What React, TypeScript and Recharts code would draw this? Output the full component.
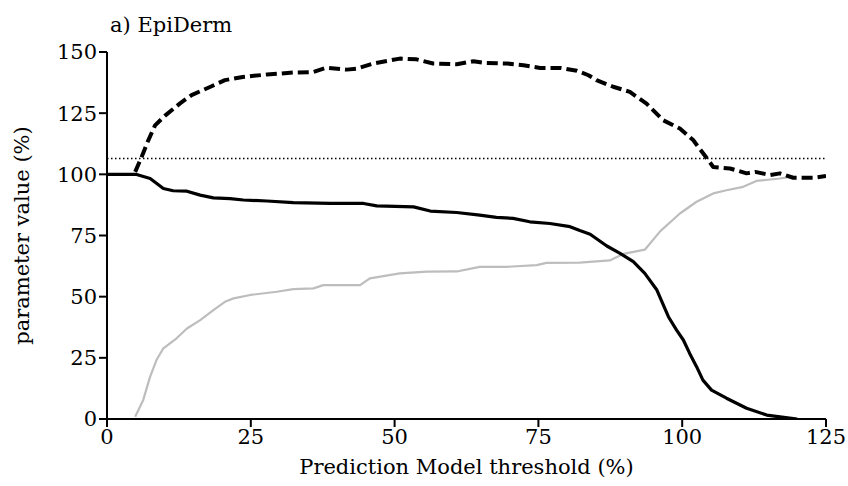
import React from 'react';
import { LineChart, Line, XAxis, YAxis, ReferenceLine } from 'recharts';

const xTicks = [0, 25, 50, 75, 100, 125];
const yTicks = [0, 25, 50, 75, 100, 125, 150];

const titleText = 'a) EpiDerm';
const xLabelText = 'Prediction Model threshold (%)';
const yLabelText = 'parameter value (%)';

const cutoffValue = 106.5;

const sensX = [0, 5, 7.5, 9.8, 11.5, 13.9, 16.2, 18.5, 21.4, 23.7, 27.8, 32.4, 38.8, 44.6, 46.9, 53.3, 56.2, 60.8, 64.8, 67.7, 70.6, 73.5, 77, 80.5, 82.2, 84, 86.9, 89.2, 91.5, 93.5, 95.6, 97.6, 99, 100.2, 101.3, 102.5, 103.6, 105.1, 107.7, 111.2, 114.7, 117, 120];
const sensY = [100, 100, 98.3, 94.2, 93.3, 93.1, 91.5, 90.4, 90.1, 89.5, 89.1, 88.4, 88.1, 88.1, 87.1, 86.7, 85, 84.4, 83.3, 82.4, 82, 80.6, 79.9, 78.6, 77, 75.5, 70.7, 67.7, 64.3, 59.5, 52.7, 41.8, 36.4, 32.3, 26.8, 21.4, 15.9, 11.8, 8.5, 4.4, 1.6, 0.9, 0];

const specX = [4.9, 6.3, 7.5, 8.6, 9.8, 12.1, 13.9, 16.2, 18.5, 20.5, 22, 24.9, 29.5, 32.4, 35.9, 37.6, 44, 45.7, 50.9, 55.6, 60.8, 64.8, 69.5, 74.7, 76.4, 82.2, 87.4, 89.8, 93.5, 96.2, 99.6, 102.5, 105.4, 107.7, 110.6, 112.9, 115.3, 117, 119];
const specY = [0.9, 7.8, 17.3, 24.1, 28.9, 33, 37, 40.4, 44.5, 47.9, 49.3, 50.7, 52, 53.1, 53.4, 54.7, 54.7, 57.5, 59.5, 60.2, 60.3, 62.2, 62.2, 62.9, 63.8, 63.9, 64.8, 67.5, 69.2, 76.8, 84, 88.8, 92.2, 93.5, 94.9, 97.3, 97.9, 98.3, 99];

const sumX = [4.9, 6.0, 7.2, 8.35, 10.1, 12.7, 14.7, 17.9, 20.5, 23.6, 27.8, 32.4, 35.8, 38.2, 41.7, 43.4, 46.3, 50.9, 53.8, 56.7, 60.8, 63.7, 66, 69.5, 72.4, 75.3, 78.8, 81.7, 83.7, 85.1, 88, 90.9, 93.8, 96.7, 99.6, 101.9, 103.9, 105.4, 108.3, 111.2, 112.7, 115.3, 117, 119.3, 122.8, 125];
const sumY = [101, 107, 114, 120, 124, 129, 132.4, 135.7, 138.5, 139.8, 140.8, 141.6, 141.8, 143.6, 142.8, 143.2, 145.3, 147.3, 147, 145.3, 145, 146.2, 145.5, 145.3, 144.6, 143.5, 143.5, 142.3, 140.5, 138.5, 135.8, 133.7, 128.9, 122.1, 118.7, 114, 107.8, 103, 102.4, 100.4, 101, 99.7, 100.4, 98.6, 98.6, 99.3];

const toPoints = (xs: number[], ys: number[]) => xs.map((x, i) => ({ x, y: ys[i] }));

const sensData = toPoints(sensX, sensY);
const specData = toPoints(specX, specY);
const sumData = toPoints(sumX, sumY);

const FONT = "'DejaVu Serif', serif";

const YLabel = (props: any) => {
  const vb = props.viewBox || {};
  const cx = vb.x;
  const cy = vb.y + vb.height / 2;
  return (
    <text
      x={cx}
      y={cy}
      transform={`rotate(-90, ${cx}, ${cy})`}
      textAnchor="middle"
      dominantBaseline="central"
      fill="#000"
      fontSize={21}
      fontFamily={FONT}
    >
      {yLabelText}
    </text>
  );
};

export default function App() {
  return (
    <div style={{ position: 'absolute', left: 0, top: 0, width: 848, height: 486, background: '#fff' }}>
      <LineChart width={848} height={486} margin={{ top: 52, right: 22, bottom: 37, left: 22 }}>
        <text x={110} y={32} fontSize={21} fontFamily={FONT} fill="#000">
          {titleText}
        </text>
        <XAxis
          type="number"
          dataKey="x"
          domain={[0, 125]}
          ticks={xTicks}
          allowDataOverflow
          height={30}
          tickSize={8}
          axisLine={{ stroke: '#000', strokeWidth: 2 }}
          tickLine={{ stroke: '#000', strokeWidth: 2 }}
          tick={{ fill: '#000', fontSize: 21, fontFamily: FONT }}
          label={{ value: xLabelText, position: 'bottom', offset: 10, fill: '#000', fontSize: 21, fontFamily: FONT }}
        />
        <YAxis
          type="number"
          dataKey="y"
          domain={[0, 150]}
          ticks={yTicks}
          allowDataOverflow
          width={85}
          tickSize={8}
          axisLine={{ stroke: '#000', strokeWidth: 2 }}
          tickLine={{ stroke: '#000', strokeWidth: 2 }}
          tick={{ fill: '#000', fontSize: 21, fontFamily: FONT }}
          label={<YLabel />}
        />
        <ReferenceLine y={cutoffValue} stroke="#000" strokeWidth={1.5} strokeDasharray="1.5 2.5" />
        <Line data={specData} dataKey="y" type="linear" stroke="#bdbdbd" strokeWidth={2.2} dot={false} isAnimationActive={false} strokeLinejoin="round" />
        <Line data={sensData} dataKey="y" type="linear" stroke="#000" strokeWidth={3.2} dot={false} isAnimationActive={false} strokeLinejoin="round" />
        <Line data={sumData} dataKey="y" type="linear" stroke="#000" strokeWidth={4} strokeDasharray="11 5" dot={false} isAnimationActive={false} strokeLinejoin="round" />
      </LineChart>
    </div>
  );
}
